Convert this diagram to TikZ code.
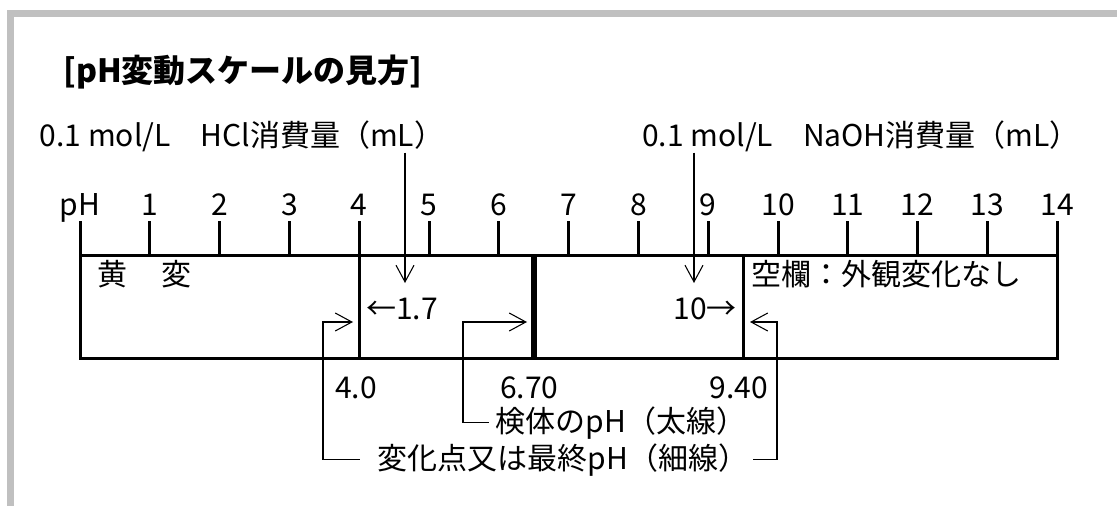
\documentclass[tikz,border=0pt]{standalone}
\usepackage{fontspec}
\setmainfont{Noto Sans CJK JP}
\usetikzlibrary{arrows.meta,calc}
\definecolor{framegrey}{RGB}{192,192,192}
\tikzset{
  txt/.style={font=\fontsize{22.5}{27}\selectfont, inner sep=0pt},
  ttl/.style={font=\fontsize{24}{29}\selectfont\bfseries, inner sep=0pt},
  boxline/.style={line width=2.25pt, line cap=rect},
  heavyline/.style={line width=3.8pt},
  conn/.style={line width=0.8pt},
  arr/.style={conn, -{Straight Barb[length=12.5pt, width=13.5pt, line width=0.8pt]}},
}
\begin{document}
\begin{tikzpicture}[x=0.75pt,y=-0.75pt]
\useasboundingbox (0,0) rectangle (1117,506);
% grey frame
\draw[framegrey, line width=5.3pt] (10.5,506) -- (10.5,13.5) -- (1117,13.5);
% title
\node[ttl, anchor=base] (title) at (243,83) {[pH変動スケールの見方]};
% reagent labels
\node[txt, anchor=base] (hcl) at (242,147) {0.1 mol/L　HCl消費量（mL）};
\node[txt, anchor=base] (naoh) at (861,147) {0.1 mol/L　NaOH消費量（mL）};
% scale numbers and ticks
\node[txt, anchor=base] (n0) at (80,215) {pH};
\foreach \i in {1,...,14} {
  \node[txt, anchor=base] (n\i) at ({80+69.8*\i},215) {\i};
}
\foreach \i in {1,...,13} {
  \draw[boxline] ({80+69.8*\i},222) -- ({80+69.8*\i},255);
}
% box
\coordinate (bl) at (80,358);
\coordinate (br) at (1057,358);
\draw[boxline, line join=miter] (80,222) -- (bl) -- (br) -- (1057,222);
\draw[boxline] (80,255) -- (1057,255);
% division lines
\coordinate (v4t) at (359,255);  \coordinate (v4b) at (359,358);
\coordinate (v67t) at (534,255); \coordinate (v67b) at (534,358);
\coordinate (v94t) at (743,255); \coordinate (v94b) at (743,358);
\draw[boxline] (v4t) -- (v4b);
\draw[heavyline] (v67t) -- (v67b);
\draw[boxline] (v94t) -- (v94b);
% texts in box
\node[txt, anchor=base] (ki) at (112,285) {黄};
\node[txt, anchor=base] (hen) at (176,285) {変};
\node[txt, anchor=base west] (kuran) at (751,285) {空欄：外観変化なし};
\node[txt, anchor=base west] (v17) at (366,319) {←1.7};
\node[txt, anchor=base east] (v10) at (737,319) {10→};
% consumption arrows
\coordinate (hcltip) at (405,283);
\coordinate (naohtip) at (694,283);
\draw[arr] (hcl.south -| hcltip) -- (hcltip);
\draw[arr] (naoh.south -| naohtip) -- (naohtip);
% pH values below
\node[txt, anchor=base west] (p40) at (335,398) {4.0};
\node[txt, anchor=base west] (p670) at (500,398) {6.70};
\node[txt, anchor=base east] (p940) at (768,398) {9.40};
% legend labels
\node[txt, anchor=base] (kentai) at (621,432) {検体のpH（太線）};
\node[txt, anchor=base] (henka) at (563,469) {変化点又は最終pH（細線）};
% legend connectors
\coordinate (t4) at (353,322);
\coordinate (t67) at (527,322);
\coordinate (t94) at (750,322);
\draw[arr] ($(henka.west)+(-18,0)$) -| (323,322) -- (t4);
\draw[arr] ($(henka.east)+(5,0)$) -| (777,322) -- (t94);
\draw[arr] ($(kentai.west)+(-7,0)$) -| (463,322) -- (t67);
\end{tikzpicture}
\end{document}
